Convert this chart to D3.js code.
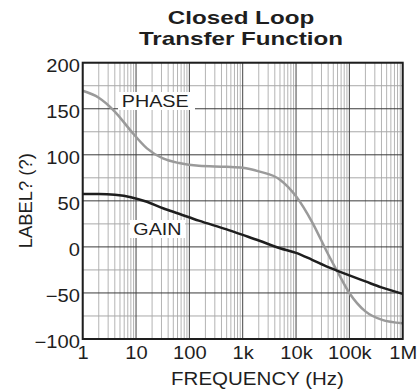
<!DOCTYPE html>
<html>
<head>
<meta charset="utf-8">
<script src="https://cdn.jsdelivr.net/npm/d3@7"></script>
<style>
  body { margin: 0; background: #fff; }
  svg { display: block; font-family: "Liberation Sans", Arial, sans-serif; }
</style>
</head>
<body>
<svg id="chart"></svg>
<script>
// Closed loop transfer function: gain and phase vs frequency (log x)

const freqHz = [1, 2, 4, 8, 16, 32, 64, 150, 500, 1000, 2000, 5000, 10000,
    20000, 40000, 60000, 100000, 200000, 400000, 1000000];
const phaseDeg = [169.5, 162, 147, 126, 107, 96, 91, 88, 87, 86, 82, 73, 55,
    27, -8, -27, -50, -70, -79, -83];
const gainDb = [57.5, 57.4, 56.5, 54, 49, 42, 36, 28.5, 19, 13, 7, -1.5, -6.5,
    -14, -22, -26, -31, -37.5, -44, -51];

const xTickValues = [1, 10, 100, 1000, 10000, 100000, 1000000];
const xTickLabels = ["1", "10", "100", "1k", "10k", "100k", "1M"];
const yTicks = [-100, -50, 0, 50, 100, 150, 200];
const yMinorTicks = [-75, -25, 25, 75, 125, 175];
const titleLines = ["Closed Loop", "Transfer Function"];

const width = 420, height = 390;
const plotLeft = 82.7, plotRight = 402.7, plotTop = 62.7, plotBottom = 339;

const svg = d3.select("#chart")
    .attr("width", width)
    .attr("height", height);

const x = d3.scaleLog().domain([1, 1e6]).range([plotLeft, plotRight]);
const y = d3.scaleLinear().domain([-100, 200]).range([plotBottom, plotTop]);

// minor vertical grid (2..9 in each decade)
const minorX = [];
for (let d = 0; d < 6; d++) {
    for (let k = 2; k <= 9; k++) minorX.push(k * Math.pow(10, d));
}

const grid = svg.append("g");
grid.selectAll(".vminor")
    .data(minorX)
    .enter().append("line")
    .attr("x1", d => x(d)).attr("x2", d => x(d))
    .attr("y1", plotTop).attr("y2", plotBottom)
    .attr("stroke", "#b4b4b4")
    .attr("stroke-width", 1);

grid.selectAll(".hminor")
    .data(yMinorTicks)
    .enter().append("line")
    .attr("x1", plotLeft).attr("x2", plotRight)
    .attr("y1", d => y(d)).attr("y2", d => y(d))
    .attr("stroke", "#a8a8a8")
    .attr("stroke-width", 1);

grid.selectAll(".vmajor")
    .data(xTickValues)
    .enter().append("line")
    .attr("x1", d => x(d)).attr("x2", d => x(d))
    .attr("y1", plotTop).attr("y2", plotBottom)
    .attr("stroke", "#444")
    .attr("stroke-width", 1);

grid.selectAll(".hmajor")
    .data(yTicks)
    .enter().append("line")
    .attr("x1", plotLeft).attr("x2", plotRight)
    .attr("y1", d => y(d)).attr("y2", d => y(d))
    .attr("stroke", "#3a3a3a")
    .attr("stroke-width", 1);

// white boxes behind the curve labels
svg.append("rect").attr("x", 118).attr("y", 92).attr("width", 77).attr("height", 18).attr("fill", "#fff");
svg.append("rect").attr("x", 130).attr("y", 220).attr("width", 55).attr("height", 18).attr("fill", "#fff");

const line = (vals) => d3.line()
    .x((d, i) => x(freqHz[i]))
    .y(d => y(d))
    .curve(d3.curveMonotoneX)(vals);

svg.append("path")
    .attr("d", line(phaseDeg))
    .attr("fill", "none")
    .attr("stroke", "#9a9a9a")
    .attr("stroke-width", 2.5);

svg.append("path")
    .attr("d", line(gainDb))
    .attr("fill", "none")
    .attr("stroke", "#1e1e1e")
    .attr("stroke-width", 2.5);

// frame
svg.append("rect")
    .attr("x", plotLeft).attr("y", plotTop)
    .attr("width", plotRight - plotLeft).attr("height", plotBottom - plotTop)
    .attr("fill", "none")
    .attr("stroke", "#1e1e1e")
    .attr("stroke-width", 2);

// axes
const xAxis = svg.append("g")
    .attr("transform", `translate(0,${plotBottom})`)
    .call(d3.axisBottom(x)
        .tickValues(xTickValues)
        .tickFormat((d, i) => xTickLabels[i])
        .tickSize(0)
        .tickPadding(8));
xAxis.select(".domain").remove();
xAxis.selectAll("text")
    .attr("font-size", 17.5)
    .attr("font-family", "Liberation Sans, Arial, sans-serif")
    .attr("fill", "#1e1e1e")
    .attr("transform", "scale(1.15,1)");

const yAxis = svg.append("g")
    .attr("transform", `translate(${plotLeft},0)`)
    .call(d3.axisLeft(y)
        .tickValues(yTicks)
        .tickSize(0)
        .tickPadding(2.5));
yAxis.select(".domain").remove();
yAxis.selectAll("text")
    .attr("font-size", 17.5)
    .attr("font-family", "Liberation Sans, Arial, sans-serif")
    .attr("fill", "#1e1e1e")
    .attr("dy", "0.5em")
    .attr("transform", "scale(1.15,1)");

// stretched text helper
function label(tx, ty, str, size, sx, opts = {}) {
    const g = svg.append("g").attr("transform", `translate(${tx},${ty}) scale(${sx},1)`);
    return g.append("text")
        .attr("text-anchor", opts.anchor || "start")
        .attr("font-size", size)
        .attr("font-weight", opts.weight || "normal")
        .attr("fill", "#1e1e1e")
        .text(str);
}

// two-line title
titleLines.forEach((t, i) => {
    label(241, 24.3 + i * 21, t, 18.6, 1.3, {anchor: "middle", weight: "bold"});
});

label(257.5, 385, "FREQUENCY (Hz)", 17.7, 1.16, {anchor: "middle"});
label(121.7, 107.3, "PHASE", 16.2, 1.22);
label(133.3, 235, "GAIN", 16.3, 1.21);

svg.append("text")
    .attr("transform", "translate(31.5,200.7) rotate(-90)")
    .attr("text-anchor", "middle")
    .attr("font-size", 18.4)
    .attr("fill", "#1e1e1e")
    .text("LABEL? (?)");
</script>
</body>
</html>
